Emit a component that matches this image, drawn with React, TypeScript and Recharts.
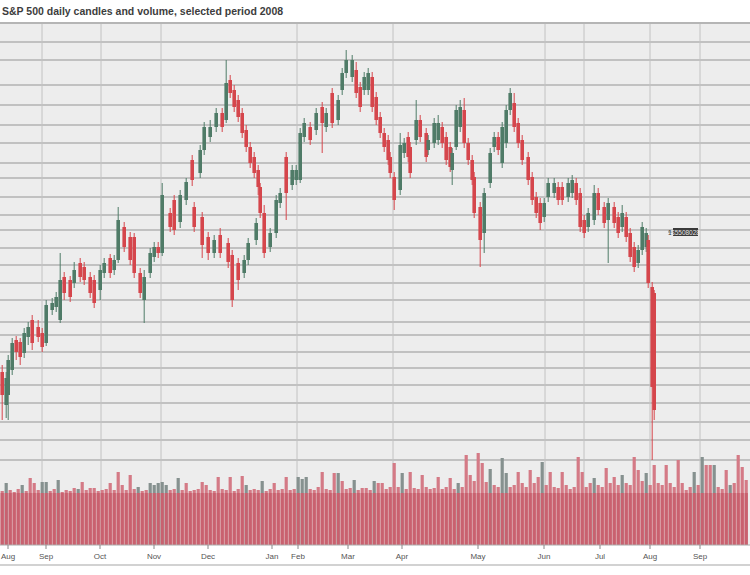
import React from 'react';
import {
  Bar,
  ComposedChart,
  ReferenceLine,
  XAxis,
  YAxis,
} from 'recharts';

// price candles, one per trading session (day = calendar day from start)
const candleDays = [
  1, 3, 4, 6, 8, 10, 12, 14, 16, 19, 21, 23, 26, 28, 30, 32, 35, 37, 40, 42,
  45, 47, 50, 52, 55, 57, 59, 62, 65, 67, 70, 72, 75, 77, 79, 81, 85, 87, 90, 93,
  96, 100, 102, 105, 108, 111, 113, 115, 117, 119, 121, 123, 125, 127, 129, 130, 132, 135, 138, 140,
  143, 146, 148, 150, 152, 155, 158, 161, 163, 166, 169, 171, 173, 176, 178, 180, 182, 184, 186, 188,
  190, 192, 194, 195, 197, 200, 202, 204, 205, 208, 210, 213, 214, 217, 219, 221, 223, 225, 226, 228,
  230, 232, 234, 236, 237, 240, 242, 245, 247, 249, 251, 253, 255, 257, 259, 261, 264, 266, 268, 270,
  272, 274, 277, 279, 281, 284, 286, 288, 290, 292, 294, 297, 299, 302, 304, 307, 309, 311, 313, 315,
  317, 319, 321, 323, 324, 326, 327,
];
const opens = [
  346, 280, 300, 350, 410, 406, 384, 416, 450, 436, 424, 404, 470, 476, 450, 536, 530, 524, 564, 556,
  536, 530, 510, 544, 574, 550, 570, 636, 616, 616, 544, 490, 544, 576, 596, 584, 664, 690, 646, 690,
  770, 744, 790, 816, 836, 864, 850, 930, 910, 890, 864, 830, 796, 776, 750, 716, 664, 596, 624, 684,
  776, 720, 730, 730, 816, 836, 830, 876, 836, 904, 850, 910, 944, 936, 950, 916, 910, 910, 936, 896,
  856, 824, 810, 776, 736, 710, 784, 816, 796, 810, 850, 824, 790, 804, 810, 836, 816, 796, 750, 796,
  836, 870, 804, 770, 736, 676, 624, 724, 796, 816, 764, 804, 870, 884, 844, 810, 776, 736, 696, 684,
  656, 696, 704, 716, 716, 696, 704, 724, 704, 650, 636, 650, 704, 676, 650, 676, 656, 636, 656, 624,
  596, 564, 590, 596, 610, 516, 504,
];
const highs = [
  360, 346, 380, 414, 418, 414, 434, 446, 460, 450, 434, 490, 494, 506, 584, 546, 538, 566, 574, 566,
  546, 540, 560, 574, 582, 580, 676, 646, 626, 624, 554, 550, 594, 606, 606, 724, 674, 700, 710, 734,
  780, 800, 846, 850, 874, 874, 970, 940, 920, 900, 874, 840, 806, 786, 760, 724, 680, 634, 700, 714,
  786, 760, 760, 834, 854, 846, 874, 886, 874, 914, 900, 954, 990, 980, 966, 926, 946, 954, 946, 906,
  866, 834, 820, 786, 746, 824, 814, 826, 806, 890, 860, 834, 820, 854, 860, 846, 826, 806, 794, 880,
  890, 894, 814, 780, 746, 686, 714, 794, 826, 826, 846, 880, 914, 904, 854, 820, 786, 746, 706, 694,
  694, 734, 734, 726, 726, 734, 740, 734, 714, 660, 674, 720, 714, 686, 694, 686, 666, 680, 666, 634,
  606, 600, 646, 634, 620, 526, 510,
];
const lows = [
  250, 254, 250, 340, 370, 360, 374, 400, 390, 406, 386, 398, 460, 466, 444, 490, 486, 514, 526, 520,
  494, 474, 490, 534, 534, 540, 564, 586, 560, 534, 494, 444, 534, 566, 574, 578, 626, 620, 634, 680,
  718, 734, 780, 806, 826, 826, 844, 894, 866, 846, 814, 786, 754, 734, 700, 654, 574, 586, 614, 674,
  650, 710, 720, 724, 806, 800, 820, 784, 826, 834, 840, 900, 934, 926, 894, 866, 900, 900, 866, 840,
  814, 786, 760, 734, 670, 700, 774, 766, 734, 800, 806, 766, 780, 794, 800, 794, 760, 746, 720, 790,
  826, 794, 760, 720, 654, 556, 584, 714, 786, 780, 754, 794, 860, 826, 794, 760, 720, 680, 654, 630,
  646, 686, 694, 680, 680, 686, 694, 680, 626, 614, 626, 640, 660, 634, 564, 634, 614, 626, 606, 566,
  546, 554, 580, 586, 514, 170, 250,
];
const closes = [
  300, 334, 370, 404, 386, 376, 424, 436, 404, 416, 396, 480, 484, 496, 530, 504, 496, 550, 536, 530,
  504, 484, 550, 564, 544, 570, 650, 596, 570, 544, 504, 536, 584, 596, 584, 700, 636, 630, 700, 726,
  730, 790, 836, 836, 864, 836, 924, 904, 876, 856, 824, 796, 764, 744, 716, 664, 584, 624, 690, 704,
  704, 750, 750, 824, 844, 810, 864, 844, 864, 844, 890, 944, 970, 970, 904, 876, 936, 944, 876, 850,
  824, 796, 770, 744, 690, 800, 804, 776, 744, 850, 816, 776, 810, 844, 844, 804, 770, 756, 784, 870,
  876, 804, 770, 730, 664, 610, 704, 784, 816, 790, 836, 870, 904, 836, 804, 770, 730, 690, 664, 644,
  684, 724, 724, 690, 690, 724, 730, 690, 636, 624, 664, 704, 670, 644, 684, 644, 624, 664, 616, 576,
  556, 590, 636, 624, 524, 316, 270,
];

// second, overlapping run of candles drawn in the source between the two swings
const ghostDays = [97, 101, 104, 107, 110, 114, 116, 119, 122, 124, 128];
const ghostOpens = [676, 656, 616, 584, 620, 604, 580, 564, 544, 570, 610];
const ghostHighs = [686, 666, 626, 620, 634, 614, 590, 574, 580, 614, 654];
const ghostLows = [626, 574, 570, 574, 574, 554, 476, 510, 534, 560, 600];
const ghostCloses = [636, 600, 584, 610, 584, 566, 490, 530, 570, 604, 644];

// volume, one bar every second day
const volumes = [
  54, 62, 55, 53, 56, 60, 54, 67, 62, 55, 63, 63, 54, 56, 65, 53, 55, 54, 57, 56,
  63, 55, 57, 57, 54, 55, 56, 62, 55, 73, 60, 55, 70, 56, 58, 54, 55, 62, 60, 62,
  63, 60, 55, 56, 67, 55, 62, 54, 55, 56, 63, 60, 55, 54, 68, 56, 55, 68, 54, 56,
  69, 60, 55, 56, 55, 64, 54, 56, 62, 55, 56, 68, 55, 56, 68, 66, 68, 56, 55, 58,
  73, 56, 55, 72, 72, 64, 56, 57, 65, 55, 57, 57, 55, 64, 62, 62, 56, 58, 82, 58,
  72, 56, 73, 57, 56, 70, 58, 56, 57, 68, 56, 58, 67, 56, 62, 58, 90, 70, 64, 92,
  82, 63, 76, 60, 58, 87, 72, 58, 60, 73, 62, 58, 75, 62, 68, 83, 60, 73, 58, 57,
  73, 60, 56, 58, 88, 73, 58, 62, 67, 60, 58, 77, 62, 68, 60, 70, 62, 60, 88, 75,
  64, 72, 60, 80, 62, 60, 80, 62, 58, 85, 62, 55, 58, 73, 60, 88, 80, 80, 80, 58,
  56, 75, 60, 62, 90, 78, 65,
];
const greyVolumeBins = [
  1, 5, 10, 11, 14, 19, 34, 37, 38, 39, 40, 41, 44, 61, 65, 74, 75, 76, 84, 88,
  93, 100, 114, 122, 125, 126, 135, 148, 155, 161, 173, 175, 178, 182,
];

const tickDays = [4, 23, 50, 77, 104, 136, 149, 174, 201, 239, 272, 300, 325, 350];
const tickLabels = ['Aug', 'Sep', 'Oct', 'Nov', 'Dec', 'Jan', 'Feb', 'Mar', 'Apr', 'May', 'Jun', 'Jul', 'Aug', 'Sep'];
const gridPrices = [
  1006, 970, 920, 880, 840, 804, 764, 734, 696, 660, 630, 594, 560, 524, 490, 446,
  420, 386, 354, 320, 284, 246, 210, 170,
];
const gridDays = [21, 50.5, 80.5, 148.5, 196.5, 272.5, 292, 325, 350];
const lastQuote = { from: 334, to: 349, price: 626, text: '$5508028' };

const RED = '#d5464c';
const GREEN = '#4f7b67';
const VOL_RED = '#d47a86';
const VOL_GREY = '#86918f';
const VOL_BAND = '#c9616f';
const VOLUME_FLOOR = 52;

type Ohlc = { open: number; high: number; low: number; close: number };
type Row = { day: number; m?: Ohlc; g?: Ohlc; vol?: number; volUp?: boolean };

function buildRows(): Row[] {
  const byDay = new Map<number, Row>();
  const row = (day: number) => {
    if (!byDay.has(day)) byDay.set(day, { day });
    return byDay.get(day)!;
  };
  candleDays.forEach((day, i) => {
    row(day).m = { open: opens[i], high: highs[i], low: lows[i], close: closes[i] };
  });
  ghostDays.forEach((day, i) => {
    row(day).g = { open: ghostOpens[i], high: ghostHighs[i], low: ghostLows[i], close: ghostCloses[i] };
  });
  volumes.forEach((v, k) => {
    const r = row(1 + 2 * k);
    r.vol = v;
    r.volUp = greyVolumeBins.includes(k);
  });
  return [...byDay.values()].sort((a, b) => a.day - b.day);
}

const rows = buildRows();

function candleShape(key: 'm' | 'g') {
  return (props: any) => {
    const { x, y, width, height, payload } = props;
    const c: Ohlc | undefined = payload?.[key];
    if (!c || !Number.isFinite(y) || !(height > 0)) return <g />;
    const unit = height / (c.high - c.low);
    const cx = x + width / 2;
    const top = y + (c.high - Math.max(c.open, c.close)) * unit;
    const bottom = y + (c.high - Math.min(c.open, c.close)) * unit;
    const color = c.close >= c.open ? GREEN : RED;
    return (
      <g>
        <line x1={cx} x2={cx} y1={y} y2={y + height} stroke={color} strokeWidth={1} />
        <rect x={cx - 1.8} y={top} width={3.6} height={Math.max(bottom - top, 1)} fill={color} />
      </g>
    );
  };
}

function volumeShape(props: any) {
  const { x, y, width, height, payload } = props;
  if (!payload?.vol || !(height > 0)) return <g />;
  const cx = x + width / 2;
  const floor = (height * VOLUME_FLOOR) / payload.vol;
  return (
    <g>
      <rect x={cx - 1.6} y={y} width={3.2} height={height} fill={payload.volUp ? VOL_GREY : VOL_RED} />
      <rect x={cx - 1.6} y={y + height - floor} width={3.2} height={floor} fill={VOL_BAND} />
    </g>
  );
}

function QuoteLabel(props: any) {
  const { viewBox } = props;
  if (!viewBox) return null;
  const { x, y, width } = viewBox;
  return (
    <g>
      <text x={x} y={y + 2.5} fontSize={7} fill="#333">1</text>
      <rect x={x + 5} y={y - 4} width={width - 5} height={8} fill="#3a3a3a" />
      <text x={x + 5 + (width - 5) / 2} y={y + 2.5} fontSize={6.5} fill="#e6e6e6" textAnchor="middle">
        {lastQuote.text}
      </text>
    </g>
  );
}

export default function App() {
  return (
    <div
      style={{
        position: 'absolute',
        left: 0,
        top: 0,
        width: 750,
        height: 575,
        overflow: 'hidden',
        background: '#fff',
        fontFamily: '"Liberation Sans", Arial, sans-serif',
      }}
    >
      <div
        style={{
          position: 'absolute',
          left: 2,
          top: 5,
          whiteSpace: 'nowrap',
          fontSize: 10.5,
          fontWeight: 'bold',
          color: '#3d3d3d',
        }}
      >
        S&amp;P 500 daily candles and volume, selected period 2008
      </div>
      <div style={{ position: 'absolute', left: 0, top: 24, width: 750, height: 521, background: '#ededed' }} />
      <div style={{ position: 'absolute', left: 0, top: 22, width: 750, height: 2, background: '#b5b5b5' }} />
      <div style={{ position: 'absolute', left: 0, top: 564, width: 750, height: 2, background: '#d2d2d2' }} />
      <div style={{ position: 'absolute', left: 0, top: 0 }}>
        <ComposedChart
          width={750}
          height={575}
          data={rows}
          margin={{ top: 24, right: 0, bottom: 10, left: 0 }}
        >
          <XAxis
            xAxisId="v"
            type="number"
            dataKey="day"
            domain={[0, 375]}
            ticks={tickDays}
            interval={0}
            tickFormatter={(d: number) => tickLabels[tickDays.indexOf(d)] ?? ''}
            height={20}
            tickSize={4}
            tickMargin={4}
            tick={{ fontSize: 8, fill: '#555' }}
            tickLine={{ stroke: '#888' }}
            axisLine={{ stroke: '#aaa' }}
          />
          <XAxis xAxisId="c" type="number" dataKey="day" domain={[0, 375]} orientation="top" height={0} hide />
          <XAxis xAxisId="g" type="number" dataKey="day" domain={[0, 375]} orientation="top" height={0} hide />
          <YAxis yAxisId="price" domain={[0, 1042]} width={0} hide />
          <YAxis yAxisId="vol" domain={[0, 521]} width={0} hide />
          {gridPrices.map((p) => (
            <ReferenceLine
              key={`h${p}`}
              xAxisId="v"
              yAxisId="price"
              y={p}
              stroke="#b2b2b2"
              strokeWidth={1.4}
              zIndex={-50}
            />
          ))}
          {gridDays.map((d) => (
            <ReferenceLine
              key={`v${d}`}
              xAxisId="v"
              yAxisId="price"
              x={d}
              stroke="#c2c2c2"
              strokeWidth={1}
              zIndex={-50}
            />
          ))}
          <Bar
            xAxisId="v"
            yAxisId="vol"
            dataKey="vol"
            shape={volumeShape}
            isAnimationActive={false}
          />
          <Bar
            xAxisId="g"
            yAxisId="price"
            dataKey={(r: Row) => (r.g ? [r.g.low, r.g.high] : undefined)}
            shape={candleShape('g')}
            isAnimationActive={false}
          />
          <Bar
            xAxisId="c"
            yAxisId="price"
            dataKey={(r: Row) => (r.m ? [r.m.low, r.m.high] : undefined)}
            shape={candleShape('m')}
            isAnimationActive={false}
          />
          <ReferenceLine
            xAxisId="v"
            yAxisId="price"
            segment={[
              { x: lastQuote.from, y: lastQuote.price },
              { x: lastQuote.to, y: lastQuote.price },
            ]}
            stroke="#888"
            strokeWidth={1}
            label={<QuoteLabel />}
          />
        </ComposedChart>
      </div>
    </div>
  );
}
